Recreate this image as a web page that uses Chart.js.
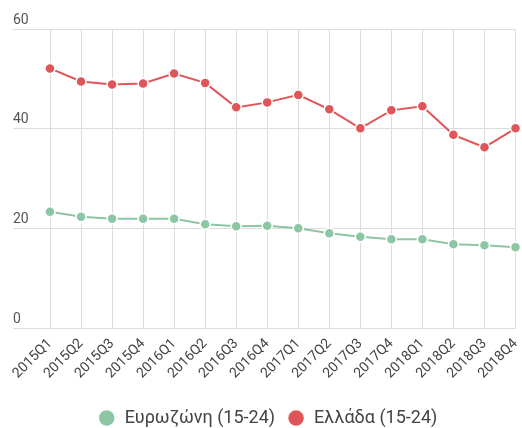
<!DOCTYPE html>
<html>
<head>
<meta charset="utf-8">
<script src="https://cdn.jsdelivr.net/npm/chart.js@4"></script>
<style>
  html, body { margin: 0; padding: 0; background: #fff; }
  #wrap { width: 522px; height: 428px; }
</style>
</head>
<body>
<div id="wrap"><canvas id="mycanvas"></canvas></div>
<script>
var quarters = ['2015Q1','2015Q2','2015Q3','2015Q4','2016Q1','2016Q2','2016Q3','2016Q4',
                '2017Q1','2017Q2','2017Q3','2017Q4','2018Q1','2018Q2','2018Q3','2018Q4'];
var eurozone = [23.4, 22.4, 22.0, 22.0, 22.0, 20.9, 20.5, 20.6, 20.1, 19.1, 18.4, 17.9, 17.9, 16.9, 16.7, 16.3];
var greece = [52.1, 49.5, 48.9, 49.1, 51.1, 49.2, 44.3, 45.3, 46.8, 43.9, 40.1, 43.7, 44.5, 38.8, 36.3, 40.1];
var yTicks = [0, 20, 40, 60];

Chart.defaults.font.family = 'Roboto';
Chart.defaults.color = '#555';

var ctx = document.getElementById('mycanvas');
var lineChart = new Chart(ctx, {
  type: 'line',
  data: {
    labels: quarters,
    datasets: [
      {
        label: 'Ευρωζώνη (15-24)',
        data: eurozone,
        borderColor: '#8dc6a4',
        backgroundColor: '#8dc6a4',
        borderWidth: 2,
        pointRadius: 5,
        pointBorderColor: '#fff',
        pointBorderWidth: 1.5,
        tension: 0
      },
      {
        label: 'Ελλάδα (15-24)',
        data: greece,
        borderColor: '#e05558',
        backgroundColor: '#e05558',
        borderWidth: 2,
        pointRadius: 5,
        pointBorderColor: '#fff',
        pointBorderWidth: 1.5,
        tension: 0
      }
    ]
  },
  options: {
    responsive: true,
    maintainAspectRatio: false,
    animation: false,
    layout: { padding: { left: 13, top: 29, right: 0, bottom: -9 } },
    plugins: {
      tooltip: { enabled: false },
      legend: {
        position: 'bottom',
        labels: {
          usePointStyle: true,
          pointStyle: 'circle',
          boxWidth: 18,
          boxHeight: 12,
          padding: 12,
          color: '#444',
          font: { size: 18 }
        }
      }
    },
    scales: {
      x: {
        offset: false,
        afterFit: function(scale) {
          scale.paddingRight = 5;
          scale.height += 8;
        },
        grid: { color: '#dcdcdc', drawTicks: false },
        border: { display: false },
        ticks: {
          maxRotation: 45,
          minRotation: 45,
          padding: 7,
          color: '#444',
          font: { size: 14 }
        }
      },
      y: {
        min: yTicks[0],
        max: yTicks[yTicks.length - 1],
        afterBuildTicks: function(scale) {
          scale.ticks = yTicks.map(function(v) { return { value: v }; });
        },
        afterFit: function(scale) { scale.width = 37; },
        grid: { color: '#dcdcdc', tickLength: 37 },
        border: { display: false },
        ticks: {
          crossAlign: 'far',
          labelOffset: -9,
          color: '#555',
          font: { size: 14 }
        }
      }
    }
  }
});
</script>
</body>
</html>
